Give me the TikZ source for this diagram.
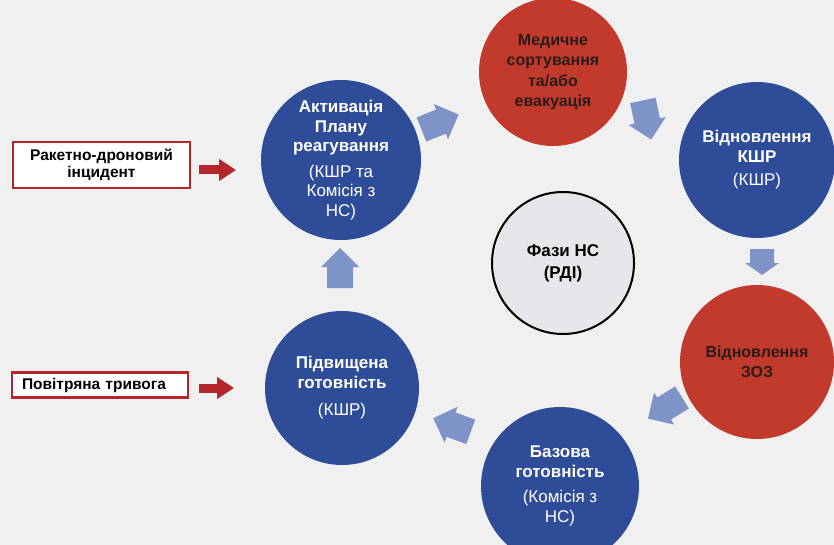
\documentclass[tikz,border=0pt]{standalone}
\usepackage{fontspec}
\setmainfont{Liberation Sans}
\usetikzlibrary{arrows.meta}
\definecolor{bgc}{HTML}{F0F0F1}
\definecolor{cblue}{HTML}{2F4C98}
\definecolor{cred}{HTML}{C23A2B}
\definecolor{arrblue}{HTML}{7E93C8}
\definecolor{dred}{HTML}{B3262C}
\definecolor{ctr}{HTML}{E6E6EB}
\definecolor{dtext}{HTML}{2B1B1B}
\begin{document}
\begin{tikzpicture}[x=1pt,y=-1pt,
  bluephase/.style={circle, fill=cblue, text=white, minimum size=#1, inner sep=0pt, align=center,
    font=\fontsize{17}{19.5}\selectfont},
  redphase/.style={circle, fill=cred, text=dtext, minimum size=#1, inner sep=0pt, align=center,
    font=\fontsize{16}{20.5}\selectfont\bfseries},
  centerphase/.style={circle, fill=ctr, draw=black, line width=2pt, text=black, minimum size=#1,
    inner sep=0pt, align=center, font=\fontsize{17}{22}\selectfont\bfseries},
  trigger/.style={draw=dred, line width=2.6pt, fill=white, inner ysep=0pt, inner xsep=10pt,
    font=\fontsize{15.5}{17.5}\selectfont\bfseries},
  redarrow/.style={draw=dred, line width=9pt, -{Triangle[length=17pt,width=21pt]}},
  pics/barrow/.style={code={\fill[arrblue] (-20,-13) -- (1,-13) -- (1,-19) -- (20,0) -- (1,19) -- (1,13) -- (-20,13) -- cycle;}},
  pics/sarrow/.style={code={\fill[arrblue] (-13,-12) -- (1,-12) -- (1,-17) -- (13,0) -- (1,17) -- (1,12) -- (-13,12) -- cycle;}}
]
\fill[bgc] (0,0) rectangle (834,545);
\useasboundingbox (0,0) rectangle (834,545);

% phases
\node[bluephase=160pt] (act) at (341,160) {\textbf{Активація}\\\textbf{Плану}\\\textbf{реагування}\\[6pt](КШР та\\Комісія з\\НС)};
\node[redphase=148pt] (med) at (553,72) {Медичне\\сортування\\та/або\\евакуація};
\node[bluephase=156pt] (kshr) at (757,160) {\textbf{Відновлення}\\\textbf{КШР}\\[4pt](КШР)};
\node[redphase=154pt] (zoz) at (757,362) {Відновлення\\ЗОЗ};
\node[bluephase=158pt] (baz) at (560,486) {\textbf{Базова}\\\textbf{готовність}\\[6pt](Комісія з\\НС)};
\node[bluephase=154pt] (pidv) at (342,388) {\textbf{Підвищена}\\\textbf{готовність}\\[8pt](КШР)};
\node[centerphase=142pt] (faz) at (563,263) {Фази НС\\(РДІ)};

% cycle arrows
\pic[rotate=22] at (440,122) {barrow};
\pic[rotate=-78] at (647,120) {barrow};
\pic[rotate=-90] at (762,262) {sarrow};
\pic[rotate=-148] at (665,408) {barrow};
\pic[rotate=160] at (452,425) {barrow};
\pic[rotate=90] at (340,268) {barrow};

% triggers
\node[trigger, align=center, text width=157pt, minimum height=46pt] (t1) at (101.5,165) {Ракетно-дроновий\\інцидент};
\node[trigger, align=left, text width=156pt, minimum height=25pt] (t2) at (100,385) {Повітряна тривога};
\coordinate (t1e) at (236,170);
\coordinate (t2e) at (234,388);
\draw[redarrow] ([xshift=8pt,yshift=-5pt]t1.east) -- (t1e);
\draw[redarrow] ([xshift=10pt,yshift=-3pt]t2.east) -- (t2e);
\end{tikzpicture}
\end{document}
